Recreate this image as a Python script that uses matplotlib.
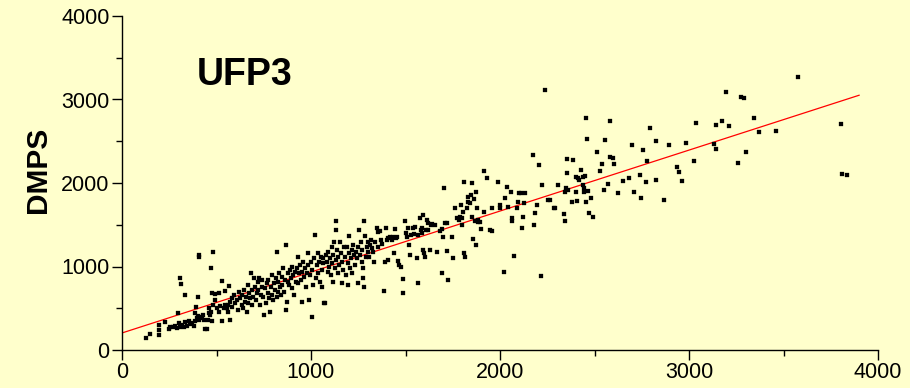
import matplotlib
matplotlib.use("Agg")
import matplotlib.pyplot as plt
from matplotlib.ticker import MultipleLocator

plt.rcParams['font.family'] = ['Liberation Sans', 'DejaVu Sans']

# UFP3 (x) vs DMPS (y) paired counts
pts_low = [(127,140),(146,192),(194,180),(197,240),(194,300),(229,340),(247,248),(252,280),(270,272),(282,288),
 (291,260),(300,328),(296,447),(309,280),(317,300),(326,272),(335,340),(344,288),(353,352),(361,312),(370,328),
 (379,288),(384,352),(388,440),(391,511),(397,380),(402,407),(409,360),(414,400),(423,380),(427,420),(432,360),
 (441,252),(450,252),(455,360),(458,440),(462,499),(467,420),(472,459),(476,352),(480,539),(490,599),(502,499),
 (511,459),(520,527),(529,352),(538,499),(543,539),(568,767),(529,831),(547,711),(511,687),(494,671),(476,679),
 (469,978),(480,1178),(409,1138),(409,1110),(331,659),(402,631),(314,787),(305,859)]

pts_mid1 = [(554,499),(559,459),(563,539),(571,579),(571,360),(580,619),(584,519),(594,659),(598,559),(607,599),
 (616,479),(619,699),(624,619),(633,539),(637,659),(642,499),(647,719),(651,579),(654,639),(660,459),(665,559),
 (668,779),(672,679),(677,619),(683,918),(686,539),(690,719),(695,639),(700,858),(704,759),(707,599),(713,679),
 (718,819),(721,719),(725,858),(730,539),(736,659),(739,759),(743,839),(748,639),(753,419),(757,739),(760,559),
 (766,799),(771,679),(774,839),(778,619),(783,459),(788,759),(792,659),(795,898),(801,599),(806,799),(810,719),
 (813,858),(818,1178),(818,639),(824,699),(827,819),(831,918),(836,759),(841,659),(845,878),(848,779),(854,978),
 (859,699),(863,839),(866,479),(868,1258),(871,571),(877,819),(880,918),(884,779),(889,958),(894,858),(898,998),
 (901,739),(907,898),(912,659),(915,938),(919,819),(924,978),(930,799),(933,1118),(937,918),(942,1018),(947,839),
 (951,938),(954,579),(960,1058),(965,878),(968,978),(972,759),(977,918),(982,1158),(986,1018),(990,599),(995,898),
 (1000,1058),(1004,399),(1007,958),(1012,779),(1018,1098),(1021,1377),(1025,858),(1030,1018),(1035,1158),
 (1039,918),(1042,1058),(1048,819),(1053,1118),(1057,958),(1060,759),(1065,1038),(1071,559),(1065,1098)]

pts_mid2 = [(1078,1138),(1083,1058),(1088,938),(1092,1178),(1095,998),(1100,1098),(1106,898),(1109,1238),
 (1113,1038),(1118,1138),(1118,811),(1123,1298),(1127,978),(1130,1078),(1130,1545),(1130,1437),(1136,1198),
 (1141,918),(1145,1118),(1148,1018),(1153,1298),(1159,1158),(1162,799),(1166,1058),(1171,958),(1176,1238),
 (1180,1118),(1183,898),(1189,1238),(1194,1038),(1197,779),(1201,1369),(1201,1158),(1206,978),(1212,1098),
 (1215,1198),(1219,918),(1224,1258),(1229,1138),(1233,1018),(1236,1178),(1242,1098),(1247,799),(1250,1238),
 (1254,1437),(1259,1138),(1265,1298),(1268,1058),(1272,1198),(1277,978),(1277,866),(1282,1545),(1282,759),
 (1286,1369),(1289,1118),(1295,1238),(1300,1298),(1303,1178),(1307,1118),(1312,1258),(1317,1318),(1321,1218),
 (1326,1178),(1335,1050),(1339,1298),(1347,1457),(1353,1238),(1356,1417),(1365,1425),(1370,1318),(1374,1266),
 (1388,707),(1392,1050),(1397,1465),(1400,1318),(1406,1078),(1409,1346),(1418,1357),(1427,1318),(1436,1357),
 (1441,1158),(1444,1449),(1448,1346),(1453,1357),(1459,1066),(1466,1018),(1476,998),(1489,851),(1485,679),
 (1497,1545),(1501,1397),(1506,1357),(1511,1465),(1519,1258),(1524,1138),(1529,1377),(1541,1465),(1547,1385),
 (1550,1477),(1559,1098),(1564,799),(1568,1377),(1577,1577),(1582,1437),(1586,1397),(1589,1457),(1594,1617),
 (1594,1198),(1600,1158),(1603,1118),(1607,1437),(1612,1557),(1617,1517),(1621,1437),(1630,1198),(1635,1497),
 (1642,1505),(1656,1497),(1665,1178),(1683,1425),(1691,918),(1695,1449),(1700,1357),(1706,1936),(1074,559),
 (1709,1517)]

pts_high1 = [(1718,1525),(1718,1185),(1727,838),(1748,1349),(1753,1098),(1762,1696),(1771,1577),(1783,1557),
 (1788,1597),(1794,1736),(1797,1577),(1801,1497),(1806,1656),(1811,2016),(1811,1157),(1815,1110),(1824,1696),
 (1829,1776),(1832,1836),(1841,1756),(1847,1856),(1850,1996),(1854,1597),(1859,1325),(1864,1804),(1868,1549),
 (1871,1896),(1871,1257),(1877,1696),(1882,1537),(1885,1557),(1894,1537),(1899,1445),(1917,2147),(1917,1656),
 (1929,2056),(1947,1437),(1959,1429),(1956,1696),(1991,2016),(2000,1736),(2000,1696),(2023,938),(2026,1816),
 (2035,1956),(2041,1716),(2058,1896),(2065,1577),(2062,1549),(2072,1126),(2090,1696),(2093,1776),(2101,1876),
 (2111,1876),(2118,1457),(2122,1597),(2125,1756),(2132,1884),(2175,2331),(2178,1497),(2185,1645),(2194,1736),
 (2206,2215),(2217,886),(2220,1976),(2256,1796),(2265,1796),(2288,1696),(2238,3114)]

pts_high2 = [(2291,1697),(2305,1976),(2340,1629),(2344,1545),(2344,1889),(2347,1944),(2353,2292),(2353,2116),
 (2358,1916),(2379,1777),(2388,2276),(2400,2068),(2400,1896),(2406,1789),(2411,2056),(2418,2036),(2427,2156),
 (2441,2068),(2441,1976),(2444,1936),(2446,1896),(2450,2084),(2453,1777),(2457,2783),(2460,2527),(2464,1904),
 (2473,1637),(2482,1817),(2494,1597),(2512,2368),(2529,2148),(2541,2224),(2552,1916),(2556,2515),(2573,1984),
 (2582,2743),(2582,2316),(2600,2296),(2601,2228),(2626,1885),(2649,2024),(2683,2056),(2698,2455),(2709,1896),
 (2743,2096),(2748,1817),(2757,2399),(2773,2012),(2778,2264),(2796,2659),(2824,2503),(2824,2036),(2870,1797),
 (2893,2455),(2937,2196),(2947,2132),(2961,2020),(2984,2475),(3028,2268),(3035,2723),
 (3134,2467),(3141,2411),(3143,2699),(3175,2746),(3196,3090),(3210,2683),(3261,2244),(3274,3030),(3293,3022),
 (3299,2371),(3346,2782),(3373,2611),(3459,2623),(3577,3269),(3803,2703),(3808,2112),(3835,2100)]

# regression line
fit_intercept = 204
fit_slope = 0.73
fit_x = [0, 3900]

x_ticks = [0, 1000, 2000, 3000, 4000]
y_ticks = [0, 1000, 2000, 3000, 4000]
title_text = "UFP3"
y_label = "DMPS"

all_pts = pts_low + pts_mid1 + pts_mid2 + pts_high1 + pts_high2
ufp3 = [p[0] for p in all_pts]
dmps = [p[1] for p in all_pts]

bg = '#FFFFCC'
fig = plt.figure(figsize=(9.1, 3.88), dpi=100, facecolor=bg)
ax = fig.add_axes([122/910, 1-350/388, (878-122)/910, (350-16)/388])
ax.set_facecolor(bg)

ax.plot(ufp3, dmps, ls='none', marker='s', ms=2.3, mfc='black', mec='black', mew=0.2, zorder=3)
fit_y = [fit_intercept + fit_slope * v for v in fit_x]
ax.plot(fit_x, fit_y, color='#FF0000', lw=0.9, zorder=2)

ax.set_xlim(0, 4000)
ax.set_ylim(0, 4000)
ax.set_xticks(x_ticks)
ax.set_yticks(y_ticks)
ax.xaxis.set_minor_locator(MultipleLocator(500))
ax.yaxis.set_minor_locator(MultipleLocator(500))
ax.tick_params(which='major', direction='out', length=7, width=1, labelsize=15.5, pad=2, colors='black')
ax.tick_params(which='minor', direction='out', length=4, width=1)
for s in ['top', 'right']:
    ax.spines[s].set_visible(False)
for s in ['left', 'bottom']:
    ax.spines[s].set_linewidth(1)
    ax.spines[s].set_color('black')

ax.set_ylabel(y_label, fontsize=21.5, fontweight='bold')
ax.yaxis.set_label_coords(-0.111, 0.539)
ax.yaxis.label.set_va('center')
ax.text(397, 3174, title_text, fontsize=27, fontweight='bold', ha='left', va='baseline')

fig.savefig('out.png', dpi=100, facecolor=bg)
